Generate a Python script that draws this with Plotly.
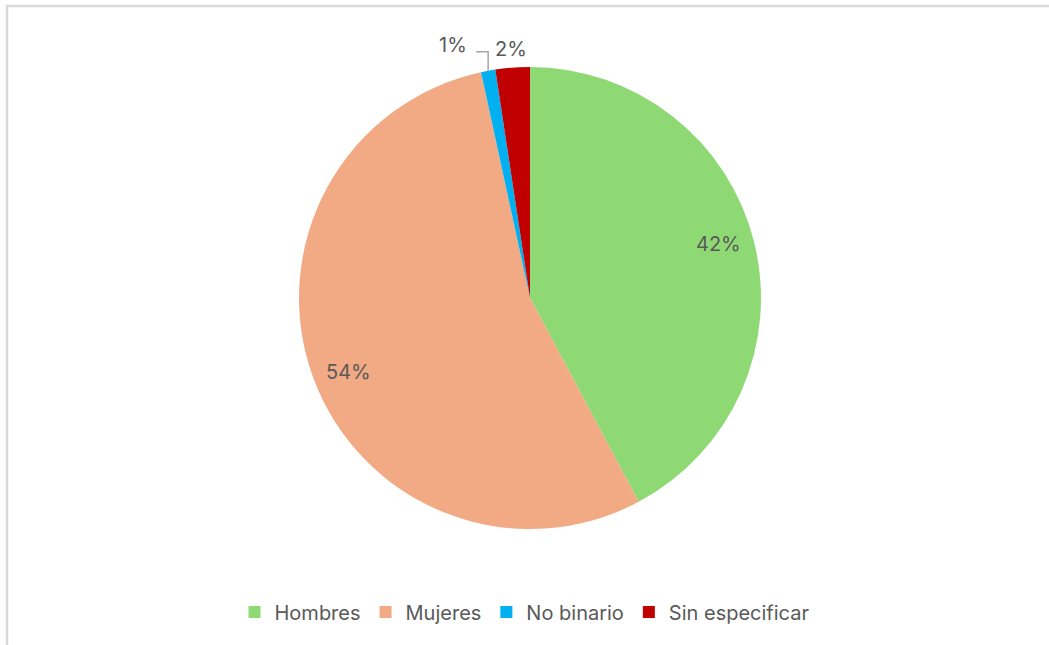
import math
import plotly.graph_objects as go

# Distribución por género (porcentaje de respuestas)
categorias = ["Hombres", "Mujeres", "No binario", "Sin especificar"]
valores = [42.2, 54.4, 1.0, 2.4]
colores = ["#8FD974", "#F1AA84", "#00B0F0", "#C00000"]

W, H = 1049, 645
cx, cy, r = 530, 298, 231  # pie centre and radius in pixels
TXT = "#595959"
FONT = "Inter"
FS = 20

fig = go.Figure(
    go.Pie(
        labels=categorias,
        values=valores,
        marker=dict(colors=colores, line=dict(width=0)),
        sort=False,
        direction="clockwise",
        rotation=0,
        textinfo="none",
        hoverinfo="label+percent",
        domain=dict(
            x=[(cx - r) / W, (cx + r) / W],
            y=[1 - (cy + r) / H, 1 - (cy - r) / H],
        ),
    )
)

# Percentage labels, placed along each slice's mid angle
total = sum(valores)
acum = 0.0
ann = []
shapes = []
for nombre, v in zip(categorias, valores):
    mid = (acum + v / 2) / total * 2 * math.pi - math.radians(2)
    acum += v
    pct = f"{round(v / total * 100):d}%"
    ux, uy = math.sin(mid), -math.cos(mid)
    if v / total >= 0.1:
        px, py = cx + 0.85 * r * ux, cy + 0.85 * r * uy
    elif nombre == "No binario":
        # leader line from the slice edge up and to the left
        mid += math.radians(2)
        ux, uy = math.sin(mid), -math.cos(mid)
        ex, ey = cx + r * ux, cy + r * uy
        shapes.append(dict(
            type="path", xref="paper", yref="paper",
            path=f"M {ex / W},{1 - ey / H} L {ex / W},{1 - (ey - 19) / H} L {(ex - 12) / W},{1 - (ey - 19) / H}",
            line=dict(color="#A6A6A6", width=1.5),
        ))
        px, py = ex - 35, ey - 26
    else:
        mid += math.radians(2)
        ux, uy = math.sin(mid), -math.cos(mid)
        px, py = cx + 1.08 * r * ux, cy + 1.08 * r * uy
    ann.append(dict(
        x=px / W, y=1 - py / H, xref="paper", yref="paper",
        text=pct, showarrow=False, xanchor="center", yanchor="middle",
        font=dict(family=FONT, size=FS, color=TXT),
    ))

# Chart area frame
shapes.append(dict(
    type="rect", xref="paper", yref="paper",
    x0=7 / W, x1=1.05, y0=-0.05, y1=1 - 6 / H,
    line=dict(color="#D9D9D9", width=2.5), fillcolor="rgba(0,0,0,0)", layer="below",
))

fig.update_layout(
    width=W, height=H,
    margin=dict(l=0, r=0, t=0, b=0),
    paper_bgcolor="white", plot_bgcolor="white",
    font=dict(family=FONT, size=FS, color=TXT),
    annotations=ann,
    shapes=shapes,
    showlegend=True,
    legend=dict(
        orientation="h", x=0.5, xanchor="center", y=1 - 612 / H, yanchor="middle",
        font=dict(family=FONT, size=FS, color=TXT),
        itemwidth=30, traceorder="normal",
    ),
)

fig.write_html("out.html")
